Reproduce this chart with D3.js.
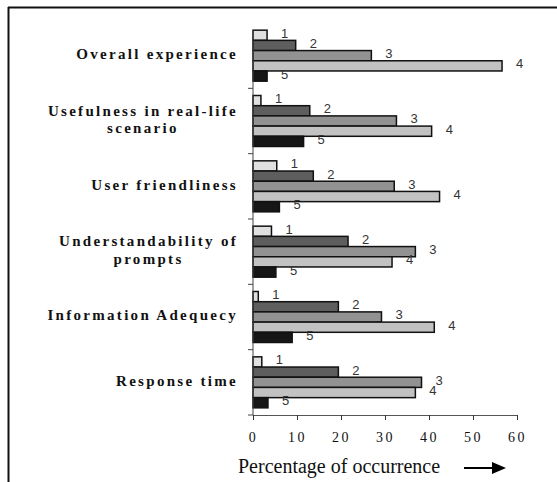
<!DOCTYPE html>
<html>
<head>
<meta charset="utf-8">
<script src="https://cdn.jsdelivr.net/npm/d3@7"></script>
</head>
<body style="margin:0;padding:0;background:#fff">
<svg id="chart" width="557" height="482" style="display:block;font-family:'Liberation Serif'" font-family="Liberation Serif"></svg>
<script>
// ---- data ----
const categories = [
  ["Overall experience"],
  ["Usefulness in real-life", "scenario"],
  ["User friendliness"],
  ["Understandability  of", "prompts"],
  ["Information Adequecy"],
  ["Response time"]
];
const seriesNames = ["1", "2", "3", "4", "5"];
const rating1 = [3.2, 1.8, 5.4, 4.2, 1.2, 2.0];
const rating2 = [9.7, 12.9, 13.7, 21.6, 19.4, 19.4];
const rating3 = [26.9, 32.6, 32.1, 36.9, 29.2, 38.3];
const rating4 = [56.6, 40.6, 42.4, 31.6, 41.2, 36.9];
const rating5 = [3.2, 11.5, 6.0, 5.2, 8.9, 3.4];
const xTicks = [0, 10, 20, 30, 40, 50, 60];
const xTitle = "Percentage of occurrence";

const series = [rating1, rating2, rating3, rating4, rating5];
const fills = ["#e0e0e0", "#5e5e5e", "#929292", "#c2c2c2", "#161616"];

const svg = d3.select("#chart");
const catKeys = categories.map(c => c.join(" "));

function serif(sel, size, bold) {
  return sel.attr("font-family", "Liberation Serif")
    .style("font-family", "Liberation Serif")
    .attr("font-size", size)
    .style("font-size", size + "px")
    .attr("font-weight", bold ? "bold" : "normal")
    .style("font-weight", bold ? "bold" : "normal");
}

// frame
svg.append("line").attr("x1", 8).attr("x2", 557).attr("y1", 7.5).attr("y2", 7.5)
  .attr("stroke", "#111").attr("stroke-width", 2);
svg.append("line").attr("x1", 8.5).attr("x2", 8.5).attr("y1", 7).attr("y2", 482)
  .attr("stroke", "#111").attr("stroke-width", 2);

const x = d3.scaleLinear().domain([0, 60]).range([253, 517]);
const y = d3.scaleBand().domain(catKeys).range([23, 415]).padding(0);
const groupH = 51;
const inner = d3.scaleBand().domain(seriesNames).range([0, groupH]).padding(0);
const groupOffset = (y.bandwidth() - groupH) / 2;

// bars
const barData = [];
catKeys.forEach((c, i) => {
  series.forEach((s, j) => {
    barData.push({cat: c, s: seriesNames[j], j, v: s[i]});
  });
});

const gBars = svg.append("g");
gBars.selectAll("rect").data(barData).join("rect")
  .attr("x", x(0))
  .attr("y", d => y(d.cat) + groupOffset + inner(d.s))
  .attr("width", d => x(d.v) - x(0))
  .attr("height", inner.bandwidth())
  .attr("fill", d => fills[d.j])
  .attr("stroke", "#111")
  .attr("stroke-width", 1.5);

gBars.selectAll("text").data(barData).join("text")
  .attr("x", d => x(d.v) + 14)
  .attr("y", d => y(d.cat) + groupOffset + inner(d.s) + inner.bandwidth() / 2 - 1)
  .attr("dominant-baseline", "middle")
  .attr("font-family", "Liberation Sans")
  .style("font-family", "Liberation Sans")
  .style("font-size", "13px")
  .attr("fill", "#333")
  .text(d => d.s);

// y axis (band boundaries)
const yTickPos = catKeys.map(c => y(c) + y.bandwidth());
const gY = svg.append("g").attr("stroke", "#444").attr("stroke-width", 1);
gY.append("line")
  .attr("x1", x(0)).attr("x2", x(0))
  .attr("y1", y(catKeys[0]) + groupOffset).attr("y2", y.range()[1]);
gY.selectAll("line.tk").data(yTickPos).join("line").attr("class", "tk")
  .attr("x1", x(0) - 5).attr("x2", x(0)).attr("y1", d => d).attr("y2", d => d);

// x axis
const xAxis = d3.axisBottom(x).tickValues(xTicks).tickSize(5).tickPadding(12)
  .tickFormat(d3.format("d"));
const gX = svg.append("g").attr("transform", `translate(0,${y.range()[1]})`).call(xAxis);
gX.attr("font-family", "Liberation Serif").attr("font-size", 14);
gX.select(".domain").attr("stroke", "#555");
gX.selectAll(".tick line").attr("stroke", "#333");
serif(gX.selectAll(".tick text"), 14, false)
  .attr("letter-spacing", "2.5px")
  .style("letter-spacing", "2.5px")
  .attr("fill", "#111");

// category labels
const labelRight = 238;
const gL = svg.append("g");
categories.forEach((lines, i) => {
  const cy = y(catKeys[i]) + y.bandwidth() / 2;
  const lh = 17.5;
  const styleIt = sel => serif(sel, 15, true)
    .attr("letter-spacing", "2.3px")
    .style("letter-spacing", "2.3px")
    .attr("fill", "#111");
  const t0 = styleIt(gL.append("text").attr("x", 0).attr("y", 0).text(lines[0]));
  const w = t0.node().getComputedTextLength();
  t0.remove();
  const cx = labelRight - w / 2;
  lines.forEach((ln, k) => {
    styleIt(gL.append("text"))
      .attr("x", cx)
      .attr("y", cy + (k - (lines.length - 1) / 2) * lh)
      .attr("text-anchor", "middle")
      .attr("dominant-baseline", "middle")
      .text(ln);
  });
});

// x title with arrow
serif(svg.append("text"), 20, false)
  .attr("x", 238).attr("y", 473)
  .attr("fill", "#111")
  .text(xTitle);
svg.append("line").attr("x1", 464).attr("x2", 494).attr("y1", 468).attr("y2", 468)
  .attr("stroke", "#000").attr("stroke-width", 2);
svg.append("path").attr("d", "M492,462 L506,468 L492,474 Z").attr("fill", "#000");
</script>
</body>
</html>
